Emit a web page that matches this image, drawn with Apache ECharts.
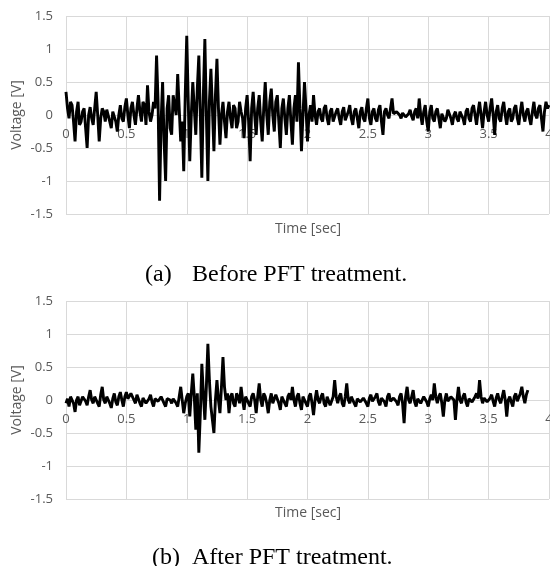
<!DOCTYPE html>
<html>
<head>
<meta charset="utf-8">
<script src="https://cdn.jsdelivr.net/npm/echarts@6/dist/echarts.min.js"></script>
<style>
html,body{margin:0;padding:0;background:#fff;}
#chart{width:550px;height:566px;}
</style>
</head>
<body>
<div id="chart"></div>
<script>
// sampling step of the recorded signals [sec]
const timeStep = 0.0125;

// (a) Before PFT treatment — voltage [V], one row = 0.125 s, starting at t = 0
const voltageBefore = [
  0.35, 0.1, -0.05, 0.2, 0.15, -0.1, -0.4, 0.05, 0.2, -0.15,
  -0.1, 0.05, 0.1, -0.2, -0.5, 0.0, 0.12, -0.05, -0.15, 0.1,
  0.35, 0.0, -0.4, -0.05, 0.1, 0.05, -0.1, 0.08, 0.05, -0.1,
  -0.2, 0.05, 0.08, -0.1, -0.25, 0.0, 0.15, -0.05, -0.1, 0.12,
  0.25, 0.0, -0.2, 0.1, 0.2, 0.0, -0.15, 0.1, 0.3, 0.05,
  -0.1, 0.2, 0.15, -0.15, 0.45, 0.05, -0.1, 0.0, 0.2, 0.1,
  0.9, 0.2, -1.3, -0.1, 0.5, -0.4, -1.0, 0.1, 0.3, -0.2,
  -0.3, 0.3, 0.15, 0.0, 0.62, 0.1, -0.4, -0.1, -0.85, 0.3,
  1.2, 0.2, -0.7, 0.0, 0.5, 0.1, -0.3, 0.4, 0.9, 0.0,
  -0.95, 0.3, 1.15, 0.0, -1.0, 0.2, 0.7, 0.1, -0.55, 0.3,
  0.85, 0.1, -0.45, 0.0, 0.2, -0.1, -0.35, 0.05, 0.2, -0.05,
  -0.2, 0.15, 0.1, -0.2, -0.1, 0.2, 0.05, -0.05, -0.35, 0.1,
  0.3, -0.1, -0.7, 0.1, 0.35, 0.0, -0.3, 0.1, 0.3, -0.1,
  -0.4, 0.1, 0.5, 0.0, -0.3, 0.2, 0.4, 0.0, -0.25, 0.2,
  0.3, -0.1, -0.5, 0.1, 0.25, -0.05, -0.3, 0.1, 0.3, -0.1,
  -0.45, 0.1, 0.3, -0.1, 0.8, 0.1, -0.55, 0.0, 0.5, 0.1,
  -0.4, 0.0, 0.15, -0.1, 0.3, 0.0, -0.15, 0.05, 0.1, -0.05,
  -0.1, 0.1, 0.15, -0.05, -0.15, 0.05, 0.1, -0.1, -0.1, 0.05,
  0.1, -0.05, -0.15, 0.05, 0.12, -0.08, -0.1, 0.05, 0.15, -0.05,
  -0.15, 0.05, 0.1, -0.05, -0.2, 0.05, 0.12, -0.05, -0.1, 0.1,
  0.25, -0.05, -0.15, 0.05, 0.1, -0.05, -0.1, 0.08, 0.15, -0.1,
  -0.3, 0.05, 0.1, 0.0, -0.05, 0.1, 0.25, 0.02, 0.0, 0.05,
  0.05, 0.0, -0.05, 0.03, 0.05, -0.03, -0.05, 0.02, 0.08, -0.02,
  -0.08, 0.05, 0.1, -0.05, 0.25, 0.0, -0.15, 0.05, 0.15, -0.1,
  -0.25, 0.05, 0.15, -0.05, -0.1, 0.05, 0.1, -0.05, -0.2, 0.02,
  0.05, -0.1, -0.05, 0.08, 0.1, -0.05, -0.15, 0.0, 0.05, -0.05,
  -0.1, 0.05, 0.08, -0.05, -0.15, 0.05, 0.1, -0.05, -0.1, 0.1,
  0.15, 0.0, -0.15, 0.05, 0.2, 0.0, -0.2, 0.05, 0.2, 0.0,
  -0.1, 0.1, 0.25, 0.0, -0.3, 0.05, 0.15, -0.05, -0.1, 0.1,
  0.2, 0.0, -0.15, 0.05, 0.1, -0.1, -0.05, 0.1, 0.15, -0.05,
  -0.15, 0.05, 0.2, 0.0, -0.1, 0.05, 0.1, -0.05, -0.15, 0.05,
  0.2, 0.0, -0.05, 0.1, 0.15, -0.05, -0.25, 0.05, 0.2, 0.1,
  0.15
];

// (b) After PFT treatment — voltage [V], one row = 0.125 s, starting at t = 0
const voltageAfter = [
  -0.05, 0.02, -0.1, 0.05, 0.02, -0.05, -0.18, 0.0, 0.05, -0.08,
  -0.05, 0.05, 0.08, -0.02, -0.08, 0.05, 0.15, 0.0, -0.05, 0.05,
  0.05, -0.05, -0.1, 0.08, 0.2, 0.0, -0.05, 0.05, 0.05, -0.05,
  -0.12, 0.02, 0.1, -0.03, -0.08, 0.05, 0.12, 0.0, -0.1, 0.05,
  0.12, 0.02, 0.05, 0.1, 0.1, 0.0, -0.05, 0.08, 0.05, -0.05,
  -0.1, 0.03, 0.0, -0.05, -0.08, 0.02, 0.08, -0.03, -0.1, 0.02,
  0.05, -0.02, -0.05, 0.05, 0.08, -0.05, -0.1, 0.02, 0.05, 0.0,
  -0.05, 0.02, 0.05, -0.05, -0.1, 0.05, 0.2, 0.0, -0.2, -0.05,
  0.05, 0.1, -0.25, 0.1, 0.4, 0.05, -0.45, 0.1, -0.8, -0.2,
  0.55, 0.1, -0.3, 0.2, 0.85, 0.3, -0.1, -0.3, -0.5, 0.0,
  0.3, 0.0, -0.2, 0.2, 0.65, 0.2, 0.0, 0.1, -0.2, 0.05,
  0.1, -0.05, -0.1, 0.1, 0.05, -0.05, 0.2, 0.0, -0.15, 0.05,
  0.05, -0.05, -0.1, 0.05, 0.1, 0.0, -0.2, 0.05, 0.25, 0.0,
  -0.1, 0.1, 0.05, -0.05, -0.2, 0.0, 0.1, -0.05, -0.05, 0.08,
  0.1, -0.05, -0.15, 0.05, 0.05, -0.05, -0.1, 0.05, 0.1, 0.0,
  0.2, 0.0, -0.1, 0.05, 0.1, -0.05, -0.15, 0.05, 0.05, -0.05,
  -0.1, 0.05, 0.1, -0.05, -0.23, 0.0, 0.15, 0.0, -0.05, 0.05,
  0.1, -0.05, -0.1, 0.05, 0.05, -0.08, -0.05, 0.05, 0.3, 0.05,
  -0.05, 0.05, 0.1, -0.05, -0.1, 0.05, 0.25, 0.0, -0.05, 0.05,
  0.05, -0.05, -0.1, 0.02, 0.05, -0.03, -0.05, 0.03, 0.05, -0.05,
  -0.1, 0.03, 0.08, -0.02, -0.05, 0.05, 0.1, -0.03, -0.08, 0.03,
  0.05, -0.03, -0.1, 0.05, 0.1, -0.02, -0.05, 0.03, 0.05, -0.03,
  -0.08, 0.05, 0.1, -0.05, -0.35, 0.05, 0.2, 0.0, -0.05, 0.05,
  0.15, -0.03, -0.1, 0.02, 0.05, -0.05, -0.05, 0.05, 0.05, -0.03,
  -0.1, 0.02, 0.08, 0.0, 0.25, 0.05, -0.05, 0.05, 0.1, -0.05,
  -0.25, 0.0, 0.1, -0.02, -0.05, 0.05, 0.05, 0.0, -0.3, 0.0,
  0.2, 0.0, -0.05, 0.05, 0.1, -0.03, -0.1, 0.02, 0.05, -0.03,
  -0.05, 0.05, 0.1, 0.02, 0.3, 0.05, -0.05, 0.03, 0.05, -0.03,
  -0.05, 0.03, 0.08, -0.02, -0.1, 0.03, 0.1, 0.0, -0.05, 0.05,
  0.15, 0.0, -0.25, 0.0, 0.05, -0.03, -0.1, 0.05, 0.1, -0.02,
  -0.05, 0.1, 0.2, 0.05, -0.05, 0.08, 0.15
];

// axis ranges / ticks
const xRange = [0, 4], xTick = 0.5;
const yRange = [-1.5, 1.5], yTick = 0.5;

const captionTags = ['(a)', '(b)'];
const captionTexts = ['Before PFT treatment.', 'After PFT treatment.'];
const xName = 'Time [sec]';
const yName = 'Voltage [V]';

function toPairs(values) {
  return values.map((v, i) => [Number((i * timeStep).toFixed(4)), v]);
}

const labelFont = 'Open Sans';
const gridColor = '#d9d9d9';
const textColor = '#595959';
const gridHeight = 198;

function xAxisFor(gi) {
  return {
    type: 'value', gridIndex: gi, min: xRange[0], max: xRange[1], interval: xTick,
    position: 'bottom',
    // labels sit at the zero line (middle of the symmetric y range)
    offset: -gridHeight / 2,
    axisLine: { show: false, onZero: false },
    axisTick: { show: false },
    axisLabel: { color: textColor, fontFamily: labelFont, fontSize: 13, margin: 13,
                 showMinLabel: true, showMaxLabel: true, hideOverlap: false },
    splitLine: { show: true, lineStyle: { color: gridColor, width: 1 } }
  };
}
function yAxisFor(gi) {
  return {
    type: 'value', gridIndex: gi, min: yRange[0], max: yRange[1], interval: yTick,
    name: yName, nameLocation: 'middle', nameGap: 42, nameMoveOverlap: false,
    nameTextStyle: { color: textColor, fontFamily: labelFont, fontSize: 14 },
    axisLine: { show: false, onZero: false }, axisTick: { show: false },
    axisLabel: { color: textColor, fontFamily: labelFont, fontSize: 13, margin: 13 },
    splitLine: { show: true, lineStyle: { color: gridColor, width: 1 } }
  };
}

const nameStyle = { color: textColor, fontFamily: labelFont, fontSize: 14, fontWeight: 'normal' };
const capStyle = { color: '#000', fontFamily: 'Liberation Serif', fontSize: 24, fontWeight: 'normal' };

const chart = echarts.init(document.getElementById('chart'), null, { renderer: 'canvas' });
chart.setOption({
  animation: false,
  backgroundColor: '#fff',
  grid: [
    { left: 66, top: 16, width: 483, height: gridHeight, outerBoundsMode: 'none', containLabel: false },
    { left: 66, top: 301, width: 483, height: gridHeight, outerBoundsMode: 'none', containLabel: false }
  ],
  title: [
    { text: xName, left: 308, top: 222, padding: 0, textAlign: 'center', textStyle: nameStyle },
    { text: xName, left: 308, top: 506, padding: 0, textAlign: 'center', textStyle: nameStyle },
    { text: captionTags[0], left: 145, top: 263, padding: 0, textStyle: capStyle },
    { text: captionTexts[0], left: 192, top: 263, padding: 0, textStyle: capStyle },
    { text: captionTags[1], left: 152, top: 546, padding: 0, textStyle: capStyle },
    { text: captionTexts[1], left: 192, top: 546, padding: 0, textStyle: capStyle }
  ],
  xAxis: [xAxisFor(0), xAxisFor(1)],
  yAxis: [yAxisFor(0), yAxisFor(1)],
  series: [
    { type: 'line', xAxisIndex: 0, yAxisIndex: 0, data: toPairs(voltageBefore),
      showSymbol: false, symbol: 'none', lineStyle: { color: '#000', width: 2.9 }, z: 5 },
    { type: 'line', xAxisIndex: 1, yAxisIndex: 1, data: toPairs(voltageAfter),
      showSymbol: false, symbol: 'none', lineStyle: { color: '#000', width: 2.9 }, z: 5 }
  ]
});
</script>
</body>
</html>
